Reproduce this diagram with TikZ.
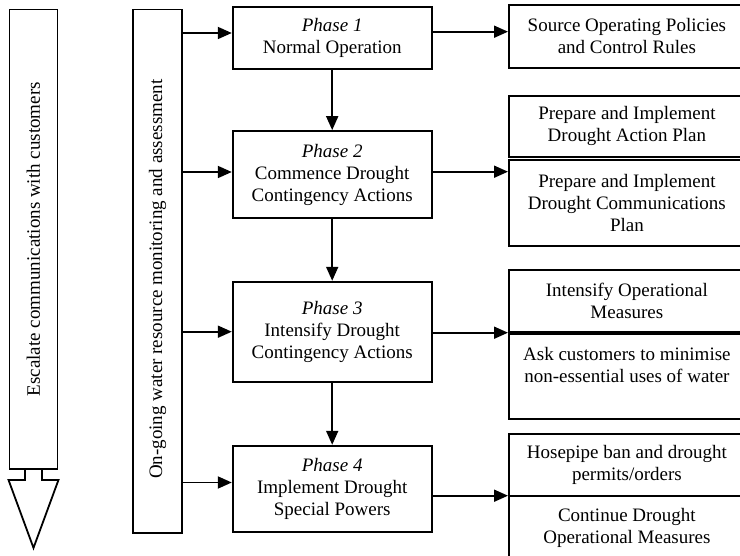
\documentclass[tikz,border=0pt]{standalone}
\usepackage{fontspec}
\setmainfont{Liberation Serif}
\usepackage{graphicx}
\usepackage{tikz}
\usetikzlibrary{calc}
\usetikzlibrary{arrows.meta}
\usetikzlibrary{positioning}
\tikzset{phase/.style={rectangle,draw=black,line width=1.8pt,minimum width=199pt,align=center,inner sep=2pt}}
\tikzset{action/.style={rectangle,draw=black,line width=1.8pt,minimum width=236pt,align=center,inner sep=2pt}}
\tikzset{bar/.style={rectangle,draw=black,line width=1.8pt,inner sep=2pt}}
\tikzset{flow/.style={line width=1.8pt,-{Triangle[length=14pt,width=12pt]}}}

\begin{document}
\begin{tikzpicture}[x=1pt,y=-1pt,font=\fontsize{19}{22}\selectfont]
\useasboundingbox (0,0) rectangle (740,556);
\clip (0,0) rectangle (740,556);
% side bars
\node[bar,minimum width=48pt,minimum height=459.5pt] (esc) at (33.5,239.25) {\rotatebox{90}{Escalate communications with customers}};
\draw[line width=1.8pt] ($(esc.south)+(-8.5,0)$) -- ++(0,10) -- ++(-16.5,0) -- ($(esc.south)+(0,78)$)
	-- ($(esc.south)+(25,10)$) -- ++(-16.5,0) -- ++(0,-10);
\node[bar,minimum width=49pt,minimum height=523.5pt] (mon) at (157.5,271.25) {\rotatebox{90}{On-going water resource monitoring and assessment\hspace*{16pt}}};

% phases
\node[phase,minimum height=62pt] (P1) at (332.2,38.3) {\textit{Phase 1}\\Normal Operation};
\node[phase,minimum height=87.3pt] (P2) at (332.2,174.7) {\textit{Phase 2}\\Commence Drought\\Contingency Actions};
\node[phase,minimum height=100pt] (P3) at (332.2,331.7) {\textit{Phase 3}\\Intensify Drought\\Contingency Actions};
\node[phase,minimum height=86pt] (P4) at (332.2,488.7) {\textit{Phase 4}\\Implement Drought\\Special Powers};

% actions
\node[action,minimum height=62.7pt] (R1) at (626.9,36.3) {Source Operating Policies\\and Control Rules};
\node[action,minimum height=61pt] (R2a) at (626.9,126.2) {Prepare and Implement\\Drought Action Plan};
\node[action,minimum height=85.7pt] (R2b) at (626.9,202.8) {Prepare and Implement\\Drought Communications\\Plan};
\node[action,minimum height=61.7pt] (R3a) at (626.9,300.8) {Intensify Operational\\Measures};
\node[action,minimum height=85.3pt] (R3b) at (626.9,376.7) {};
\node[align=center] (R3t) at (626.9,365) {Ask customers to minimise\\non-essential uses of water};
\node[action,minimum height=61.7pt] (R4a) at (626.9,464.8) {Hosepipe ban and drought\\permits/orders};
\node[action,minimum height=65.3pt] (R4b) at (626.9,528.3) {Continue Drought\\Operational Measures};

% connectors
\foreach \p/\s in {P1/5.3,P2/2.7,P3/0,P4/6.2} {
	\draw[flow] ([yshift=\s pt]\p.west -| mon.east) -- ([yshift=\s pt]\p.west);
}
\foreach \p/\r/\s in {P1/R1/6.6,P2/R2b/3,P3/R3b/-1,P4/R4b/-7} {
	\draw[flow] ([yshift=\s pt]\p.east) -- ([yshift=\s pt]\p.east -| \r.west);
}
\foreach \i/\j in {1/2,2/3,3/4} {
	\draw[flow] (P\i) -- (P\j);
}
\end{tikzpicture}
\end{document}
